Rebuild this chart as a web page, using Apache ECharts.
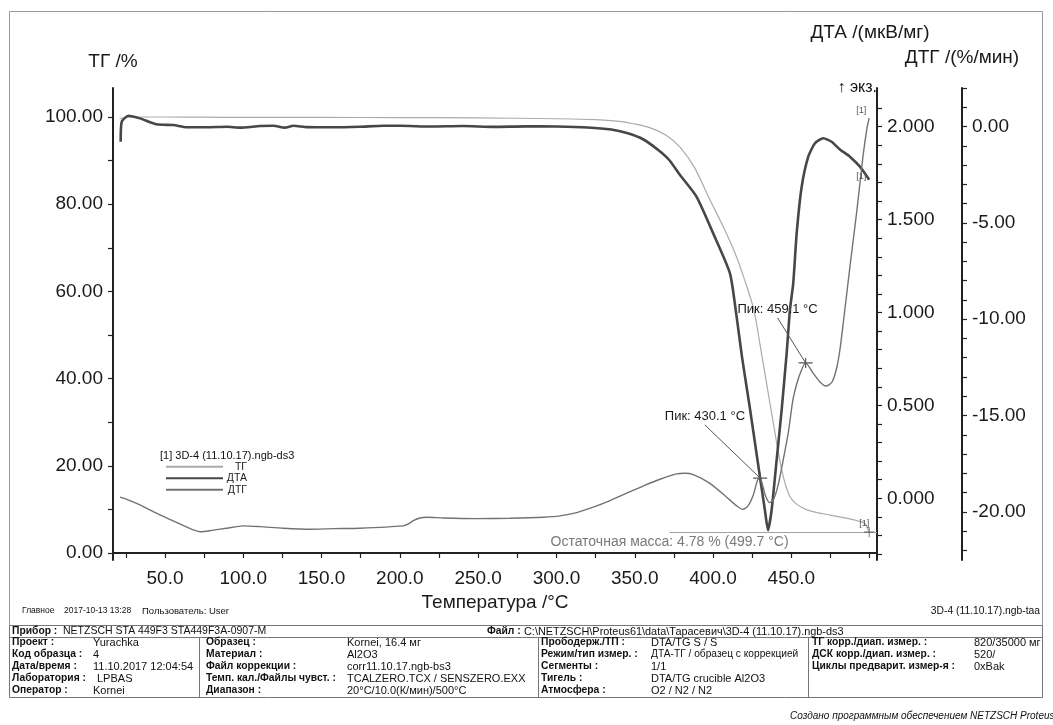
<!DOCTYPE html>
<html>
<head>
<meta charset="utf-8">
<script src="https://cdn.jsdelivr.net/npm/echarts@6/dist/echarts.min.js"></script>
<style>
  html, body { margin: 0; padding: 0; background: #fff; }
  #chart { width: 1053px; height: 725px; }
</style>
</head>
<body>
<div id="chart"></div>
<script>
// ---- measured data: sample 3D-4, 20..500 °C at 10 K/min ----

// ТГ: temperature (°C) and mass (%)
const tgTemp = [21, 25, 35, 50, 75, 100, 150, 200, 250, 300, 325, 340, 350, 360, 370, 378.9, 388, 398, 406, 414, 420, 426.1, 430, 434, 438, 441, 443, 445, 447, 449, 452, 456, 460, 467, 475, 485, 492, 497, 499.7];
const tgMass = [99.6, 99.9, 100.0, 100.0, 99.95, 99.9, 99.9, 99.85, 99.8, 99.6, 99.4, 99.0, 98.4, 97.5, 95.8, 93.1, 88.5, 81.0, 75.2, 68.8, 62.8, 55.7, 47.8, 39.3, 30.8, 24.5, 20.6, 17.3, 14.8, 13.0, 11.6, 10.6, 9.9, 9.2, 8.7, 8.0, 7.4, 6.7, 4.78];

// ДТА: temperature (°C) and signal (мкВ/мг)
const dtaTemp = [21.7, 22.4, 26.6, 34, 44.7, 55.3, 63.9, 76.6, 89.4, 97.9, 110.7, 119.2, 126.6, 132, 140.5, 157.3, 174.5, 189.4, 200.1, 220, 240, 260, 280, 300, 320, 335, 345, 355, 365, 372, 378.9, 389.5, 400.1, 410.8, 414.9, 418.5, 423.6, 428.0, 431.2, 433.1, 435.1, 437.4, 440.6, 443.8, 447.0, 449.1, 451.2, 453.4, 456.6, 460.8, 465.1, 470.4, 475.7, 481.0, 487.4, 493.8, 499.7];
const dtaValue = [1.919, 2.027, 2.059, 2.045, 2.013, 2.009, 1.997, 1.997, 2.000, 1.995, 2.004, 2.005, 1.995, 2.005, 1.998, 1.997, 2.000, 2.005, 2.005, 2.001, 2.004, 1.999, 2.002, 2.001, 1.996, 1.985, 1.966, 1.934, 1.875, 1.821, 1.740, 1.623, 1.426, 1.211, 0.987, 0.760, 0.481, 0.228, 0.045, -0.063, -0.171, -0.063, 0.206, 0.475, 0.780, 1.014, 1.157, 1.426, 1.677, 1.839, 1.911, 1.938, 1.919, 1.878, 1.839, 1.785, 1.715];

// ДТГ: temperature (°C) and rate (%/мин)
const dtgTemp = [21.3, 25.6, 34, 46.8, 59.6, 68.1, 72.4, 78.7, 89.4, 100, 110.7, 125.6, 142.6, 157.5, 174.5, 202.2, 205.4, 208.6, 212.8, 217.1, 227.7, 249, 270.3, 291.6, 302.2, 312.9, 323.5, 334.2, 344.8, 355.4, 366.1, 376.8, 382.1, 387.4, 398, 408.7, 415.1, 418.9, 422.3, 425.7, 428.5, 430.1, 431.6, 433.3, 436, 438.5, 441.6, 444.8, 448, 451, 453.6, 456, 459.1, 463.8, 468.3, 472.1, 476, 479.1, 481, 483, 487.4, 491.9, 495.7, 498.3, 499.7];
const dtgValue = [-19.24, -19.35, -19.64, -20.16, -20.63, -20.94, -21.03, -20.98, -20.85, -20.73, -20.77, -20.85, -20.90, -20.87, -20.85, -20.73, -20.63, -20.46, -20.32, -20.28, -20.32, -20.35, -20.33, -20.28, -20.21, -20.04, -19.76, -19.42, -19.03, -18.66, -18.31, -18.03, -18.00, -18.07, -18.52, -19.24, -19.69, -19.87, -19.69, -19.12, -18.34, -18.25, -18.60, -19.12, -19.52, -19.38, -18.60, -17.31, -15.92, -14.19, -13.31, -12.74, -12.27, -12.79, -13.26, -13.47, -13.26, -12.48, -11.60, -10.30, -7.29, -4.33, -1.58, -0.08, 0.44];

// evaluated peaks on the ДТГ curve
const peakTemp = [430.1, 459.1];
const peakValue = [-18.25, -12.27];

// residual mass at the end of the run
const residualMass = 4.78;
const residualTemp = 499.7;

// axis tick labels
const tempTicks = [50, 100, 150, 200, 250, 300, 350, 400, 450];
const tgTicks = [0, 20, 40, 60, 80, 100];
const dtaTicks = [0, 0.5, 1, 1.5, 2];
const dtgTicks = [0, -5, -10, -15, -20];

// ---- drawing ----
const FONT = '"Liberation Sans", Arial, Helvetica, sans-serif';
const pairs = (xs, ys) => xs.map((x, i) => [x, ys[i]]);
const range = (a, b, step) => { const r = []; for (let v = a; v <= b + 1e-9; v += step) r.push(+v.toFixed(4)); return r; };
const plus = 'path://M0,4.4H14V5.6H0Z M6.4,0H7.6V10H6.4Z';

const axisLine = { show: true, lineStyle: { color: '#222', width: 2 } };
const axisLabelBase = { fontFamily: FONT, fontSize: 19, color: '#1a1a1a' };

// leader-line anchors for the peak captions (offsets in axis units)
const peakCaptionShift = [[-35.3, 2.76], [-17.9, 2.34]];

function txt(x, y, text, font, align) {
  return { type: 'text', x: x, y: y, silent: true,
    style: { text: text, font: font + ' ' + FONT, fill: '#111', align: align || 'left', verticalAlign: 'middle' } };
}
const LBL = 'bold 10.3px';
const VAL = '11px';
function hline(x1, x2, y) { return { type: 'line', silent: true, shape: { x1: x1, y1: y, x2: x2, y2: y }, style: { stroke: '#777', lineWidth: 1 } }; }
function vline(x, y1, y2) { return { type: 'line', silent: true, shape: { x1: x, y1: y1, x2: x, y2: y2 }, style: { stroke: '#777', lineWidth: 1 } }; }

const rowsY = [642.5, 654.5, 666.5, 678.5, 690.5];
const col1 = [['Проект :', 'Yurachka'], ['Код образца :', '4'], ['Дата/время :', '11.10.2017 12:04:54'], ['Лаборатория :', 'LPBAS'], ['Оператор :', 'Kornei']];
const col2 = [['Образец :', 'Kornei, 16.4 мг'], ['Материал :', 'Al2O3'], ['Файл коррекции :', 'corr11.10.17.ngb-bs3'], ['Темп. кал./Файлы чувст. :', 'TCALZERO.TCX / SENSZERO.EXX'], ['Диапазон :', '20°C/10.0(К/мин)/500°C']];
const col3 = [['Прободерж./ТП :', 'DTA/TG S / S'], ['Режим/тип измер. :', 'ДТА-ТГ / образец с коррекцией'], ['Сегменты :', '1/1'], ['Тигель :', 'DTA/TG crucible Al2O3'], ['Атмосфера :', 'O2 / N2 / N2']];
const col4 = [['ТГ корр./диап. измер. :', '820/35000 мг'], ['ДСК корр./диап. измер. :', '520/'], ['Циклы предварит. измер-я :', '0xBak']];

const graphics = [
  { type: 'rect', silent: true, shape: { x: 9.5, y: 11.5, width: 1033, height: 614 }, style: { fill: 'none', stroke: '#999', lineWidth: 1 } },
  { type: 'rect', silent: true, shape: { x: 9.5, y: 625.5, width: 1033, height: 72 }, style: { fill: 'none', stroke: '#777', lineWidth: 1 } },
  hline(9.5, 1042.5, 637.5),
  vline(199.5, 637.5, 697.5), vline(538.5, 637.5, 697.5), vline(808.5, 637.5, 697.5),
  txt(877, 88, '↑ экз.', '16px', 'right'),
  txt(160, 456, '[1] 3D-4 (11.10.17).ngb-ds3', '11px'),
  txt(22, 611, 'Главное', '8.5px'),
  txt(64, 611, '2017-10-13 13:28', '8.5px'),
  txt(142, 611, 'Пользователь: User', '9.5px'),
  txt(1040, 611, '3D-4 (11.10.17).ngb-taa', '10.3px', 'right'),
  txt(12, 631.5, 'Прибор :', LBL), txt(63, 631.5, 'NETZSCH STA 449F3 STA449F3A-0907-M', '10.5px'),
  txt(487, 631.5, 'Файл :', LBL), txt(524, 631.5, 'C:\\NETZSCH\\Proteus61\\data\\Тарасевич\\3D-4 (11.10.17).ngb-ds3', '10.9px'),
  txt(790, 716, 'Создано программным обеспечением NETZSCH Proteus', 'italic 10px')
];
col1.forEach((r, i) => { graphics.push(txt(12, rowsY[i], r[0], LBL), txt(i === 3 ? 97 : 93, rowsY[i], r[1], VAL)); });
col2.forEach((r, i) => { graphics.push(txt(206, rowsY[i], r[0], LBL), txt(347, rowsY[i], r[1], VAL)); });
col3.forEach((r, i) => { graphics.push(txt(541, rowsY[i], r[0], LBL), txt(651, rowsY[i], r[1], i === 1 ? '10.2px' : VAL)); });
col4.forEach((r, i) => { graphics.push(txt(812, rowsY[i], r[0], LBL), txt(974, rowsY[i], r[1], VAL)); });

const option = {
  animation: false,
  backgroundColor: '#ffffff',
  grid: { left: 113, right: 176, top: 88, bottom: 165, containLabel: false },
  legend: {
    left: 165, top: 461, padding: 0, orient: 'vertical', selectedMode: false,
    itemWidth: 57, itemHeight: 8, itemGap: 0,
    itemStyle: { opacity: 0 },
    data: ['ТГ', 'ДТА', 'ДТГ'],
    formatter: name => '{t|' + name + '}',
    textStyle: { fontFamily: FONT, fontSize: 10.5, color: '#222', lineHeight: 11.5,
      rich: { t: { width: 19, align: 'right', fontFamily: FONT, fontSize: 10.5, color: '#222' } } }
  },
  xAxis: {
    type: 'value', min: 16.8, max: 504.7,
    name: 'Температура /°C', nameLocation: 'middle', nameGap: 30,
    nameTextStyle: { fontFamily: FONT, fontSize: 19, color: '#1a1a1a' },
    axisLine: axisLine,
    axisTick: { show: true, length: 5, lineStyle: { color: '#222', width: 1.2 }, customValues: range(25, 500, 25) },
    axisLabel: Object.assign({}, axisLabelBase, { margin: 9, customValues: tempTicks, formatter: v => v.toFixed(1) }),
    splitLine: { show: false }
  },
  yAxis: [
    {
      type: 'value', position: 'left', min: -1.61, max: 106.65,
      name: 'ТГ /%', nameLocation: 'end', nameGap: 17,
      nameTextStyle: { fontFamily: FONT, fontSize: 19, color: '#1a1a1a' },
      axisLine: axisLine,
      axisTick: { show: true, length: 5, lineStyle: { color: '#222', width: 1.2 }, customValues: range(0, 100, 10) },
      axisLabel: Object.assign({}, axisLabelBase, { margin: 10, customValues: tgTicks, formatter: v => v.toFixed(2) }),
      splitLine: { show: false }
    },
    {
      type: 'value', position: 'right', offset: 0, min: -0.332, max: 2.2085,
      name: 'ДТА /(мкВ/мг)', nameLocation: 'end', nameGap: 46,
      nameTextStyle: { fontFamily: FONT, fontSize: 19, color: '#1a1a1a', padding: [0, 14, 0, 0] },
      axisLine: axisLine,
      axisTick: { show: true, length: 5, lineStyle: { color: '#222', width: 1.2 }, customValues: range(-0.3, 2.1, 0.1) },
      axisLabel: Object.assign({}, axisLabelBase, { margin: 10, customValues: dtaTicks, formatter: v => v.toFixed(3) }),
      splitLine: { show: false }
    },
    {
      type: 'value', position: 'right', offset: 85, min: -22.5, max: 2.0,
      name: 'ДТГ /(%/мин)', nameLocation: 'end', nameGap: 21,
      nameTextStyle: { fontFamily: FONT, fontSize: 19, color: '#1a1a1a' },
      axisLine: axisLine,
      axisTick: { show: true, length: 5, lineStyle: { color: '#222', width: 1.2 }, customValues: range(-22, 2, 1) },
      axisLabel: Object.assign({}, axisLabelBase, { margin: 10, customValues: dtgTicks, formatter: v => v.toFixed(2) }),
      splitLine: { show: false }
    }
  ],
  graphic: graphics,
  series: [
    {
      name: 'ТГ', type: 'line', yAxisIndex: 0, data: pairs(tgTemp, tgMass),
      smooth: 0.3, symbol: 'none', showSymbol: false, clip: false,
      lineStyle: { color: '#ababab', width: 1.2 }, itemStyle: { color: '#ababab' },
      endLabel: { show: true, formatter: '[1]', offset: [-18, -9], fontFamily: FONT, fontSize: 9, color: '#555' },
      markLine: {
        silent: true, symbol: ['none', 'none'], label: { show: false },
        lineStyle: { color: '#a0a0a0', width: 1, type: 'solid' },
        data: [[{ coord: [372.2, residualMass] }, { coord: [504.7, residualMass] }]]
      },
      markPoint: {
        silent: true,
        data: [
          { coord: [residualTemp, residualMass], symbol: plus, symbolSize: [10, 10], itemStyle: { color: '#666' }, label: { show: false } },
          { coord: [372.2, residualMass], symbol: 'circle', symbolSize: 0.1,
            label: { show: true, position: 'bottom', distance: 3,
              formatter: 'Остаточная масса: ' + residualMass.toFixed(2) + ' % (' + residualTemp.toFixed(1) + ' °C)',
              fontFamily: FONT, fontSize: 14, color: '#7a7a7a' } }
        ]
      }
    },
    {
      name: 'ДТА', type: 'line', yAxisIndex: 1, data: pairs(dtaTemp, dtaValue),
      smooth: 0.2, symbol: 'none', showSymbol: false,
      lineStyle: { color: '#474747', width: 2.6 }, itemStyle: { color: '#474747' },
      endLabel: { show: true, formatter: '[1]', offset: [-21, -3], fontFamily: FONT, fontSize: 9, color: '#555' }
    },
    {
      name: 'ДТГ', type: 'line', yAxisIndex: 2, data: pairs(dtgTemp, dtgValue),
      smooth: 0.25, symbol: 'none', showSymbol: false,
      lineStyle: { color: '#727272', width: 1.4 }, itemStyle: { color: '#727272' },
      endLabel: { show: true, formatter: '[1]', offset: [-21, -8], fontFamily: FONT, fontSize: 9, color: '#555' },
      markLine: {
        silent: true, symbol: ['none', 'none'], label: { show: false },
        lineStyle: { color: '#555', width: 1, type: 'solid' },
        data: peakTemp.map((t, i) => [
          { coord: [t + peakCaptionShift[i][0], peakValue[i] + peakCaptionShift[i][1]] },
          { coord: [t, peakValue[i]] }
        ])
      },
      markPoint: {
        silent: true,
        data: peakTemp.map((t, i) => ({
          coord: [t, peakValue[i]], symbol: plus, symbolSize: [14, 10], itemStyle: { color: '#555' }, label: { show: false }
        })).concat(peakTemp.map((t, i) => ({
          coord: [t + peakCaptionShift[i][0], peakValue[i] + peakCaptionShift[i][1]],
          symbol: 'circle', symbolSize: 0.1,
          label: { show: true, position: 'top', distance: 2, formatter: 'Пик: ' + t.toFixed(1) + ' °C',
            fontFamily: FONT, fontSize: 13, color: '#1a1a1a' }
        })))
      }
    }
  ]
};

const chart = echarts.init(document.getElementById('chart'), null, { renderer: 'canvas' });
chart.setOption(option);
</script>
</body>
</html>
